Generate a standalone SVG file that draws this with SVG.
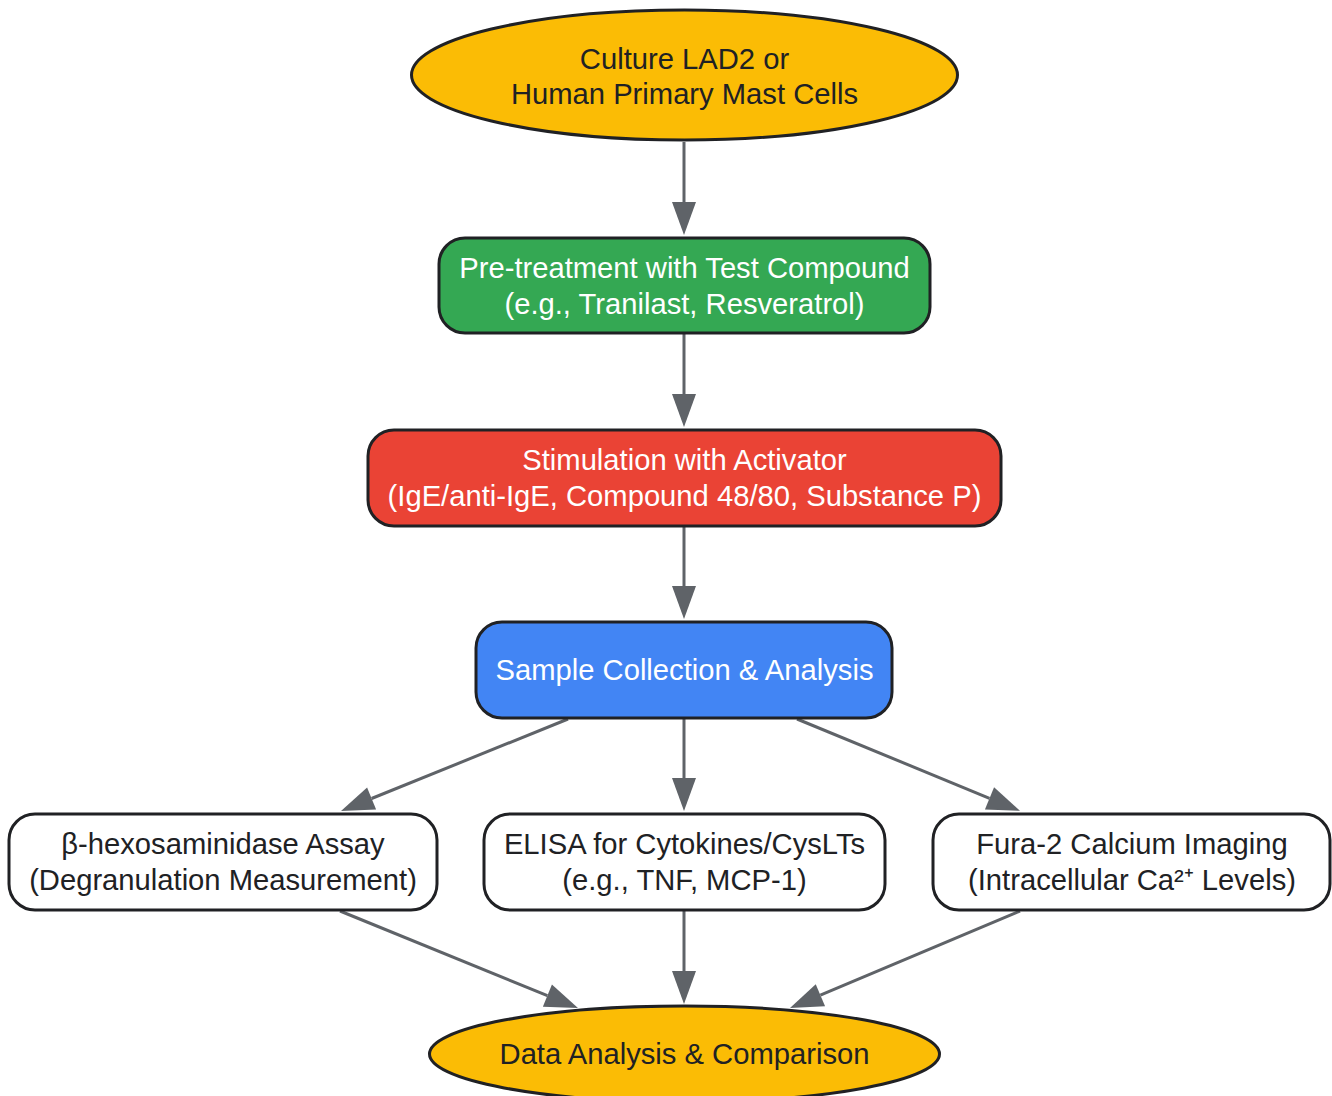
<svg xmlns="http://www.w3.org/2000/svg" width="1332" height="1096" viewBox="0 0 1332 1096">
<style>
.n{stroke:#202124;stroke-width:3}
.t{font-family:"Liberation Sans",Arial,sans-serif;font-size:29.2px;text-anchor:middle}
.d{fill:#202124}
.w{fill:#ffffff}
.e{stroke:#5F6368;stroke-width:3;fill:none}
</style>
<defs>
<marker id="ah" markerUnits="userSpaceOnUse" markerWidth="36" markerHeight="26" refX="0" refY="12" orient="auto" overflow="visible">
<path d="M0,0 L33,12 L0,24 z" fill="#5F6368"/>
</marker>
</defs>
<rect width="1332" height="1096" fill="#ffffff"/>
<g id="connectors">
<line class="e" x1="684" y1="142" x2="684" y2="202" marker-end="url(#ah)"/>
<line class="e" x1="684" y1="334" x2="684" y2="394" marker-end="url(#ah)"/>
<line class="e" x1="684" y1="527" x2="684" y2="586" marker-end="url(#ah)"/>
<line class="e" x1="568" y1="719" x2="371.6" y2="798.5" marker-end="url(#ah)"/>
<line class="e" x1="684" y1="719" x2="684" y2="778" marker-end="url(#ah)"/>
<line class="e" x1="797" y1="719" x2="989.5" y2="798.3" marker-end="url(#ah)"/>
<line class="e" x1="340" y1="911" x2="547.4" y2="995.6" marker-end="url(#ah)"/>
<line class="e" x1="684" y1="911" x2="684" y2="971" marker-end="url(#ah)"/>
<line class="e" x1="1020" y1="911" x2="820.4" y2="995.2" marker-end="url(#ah)"/>
</g>
<g id="culture">
<ellipse class="n" cx="684.5" cy="75" rx="273" ry="65" fill="#FBBC05"/>
<text class="t d" x="684.5" y="69">Culture LAD2 or</text>
<text class="t d" x="684.5" y="104">Human Primary Mast Cells</text>
</g>
<g id="pretreat">
<rect class="n" x="439" y="238" width="491" height="95" rx="26" fill="#34A853"/>
<text class="t w" x="684.5" y="278">Pre-treatment with Test Compound</text>
<text class="t w" x="684.5" y="314">(e.g., Tranilast, Resveratrol)</text>
</g>
<g id="stimulation">
<rect class="n" x="368" y="430" width="633" height="96" rx="26" fill="#EA4335"/>
<text class="t w" x="684.5" y="470">Stimulation with Activator</text>
<text class="t w" x="684.5" y="506">(IgE/anti-IgE, Compound 48/80, Substance P)</text>
</g>
<g id="sample">
<rect class="n" x="476" y="622" width="416" height="96" rx="26" fill="#4285F4"/>
<text class="t w" x="684.5" y="680">Sample Collection &amp; Analysis</text>
</g>
<g id="hexo">
<rect class="n" x="9" y="814" width="428" height="96" rx="26" fill="#ffffff"/>
<text class="t d" x="223" y="854">β-hexosaminidase Assay</text>
<text class="t d" x="223" y="890">(Degranulation Measurement)</text>
</g>
<g id="elisa">
<rect class="n" x="484" y="814" width="401" height="96" rx="26" fill="#ffffff"/>
<text class="t d" x="684.5" y="854">ELISA for Cytokines/CysLTs</text>
<text class="t d" x="684.5" y="890">(e.g., TNF, MCP-1)</text>
</g>
<g id="fura">
<rect class="n" x="933" y="814" width="397" height="96" rx="26" fill="#ffffff"/>
<text class="t d" x="1132" y="854">Fura-2 Calcium Imaging</text>
<text class="t d" x="1132" y="890">(Intracellular Ca²⁺ Levels)</text>
</g>
<g id="data">
<ellipse class="n" cx="684.5" cy="1054" rx="255" ry="48" fill="#FBBC05"/>
<text class="t d" x="684.5" y="1064">Data Analysis &amp; Comparison</text>
</g>
</svg>
